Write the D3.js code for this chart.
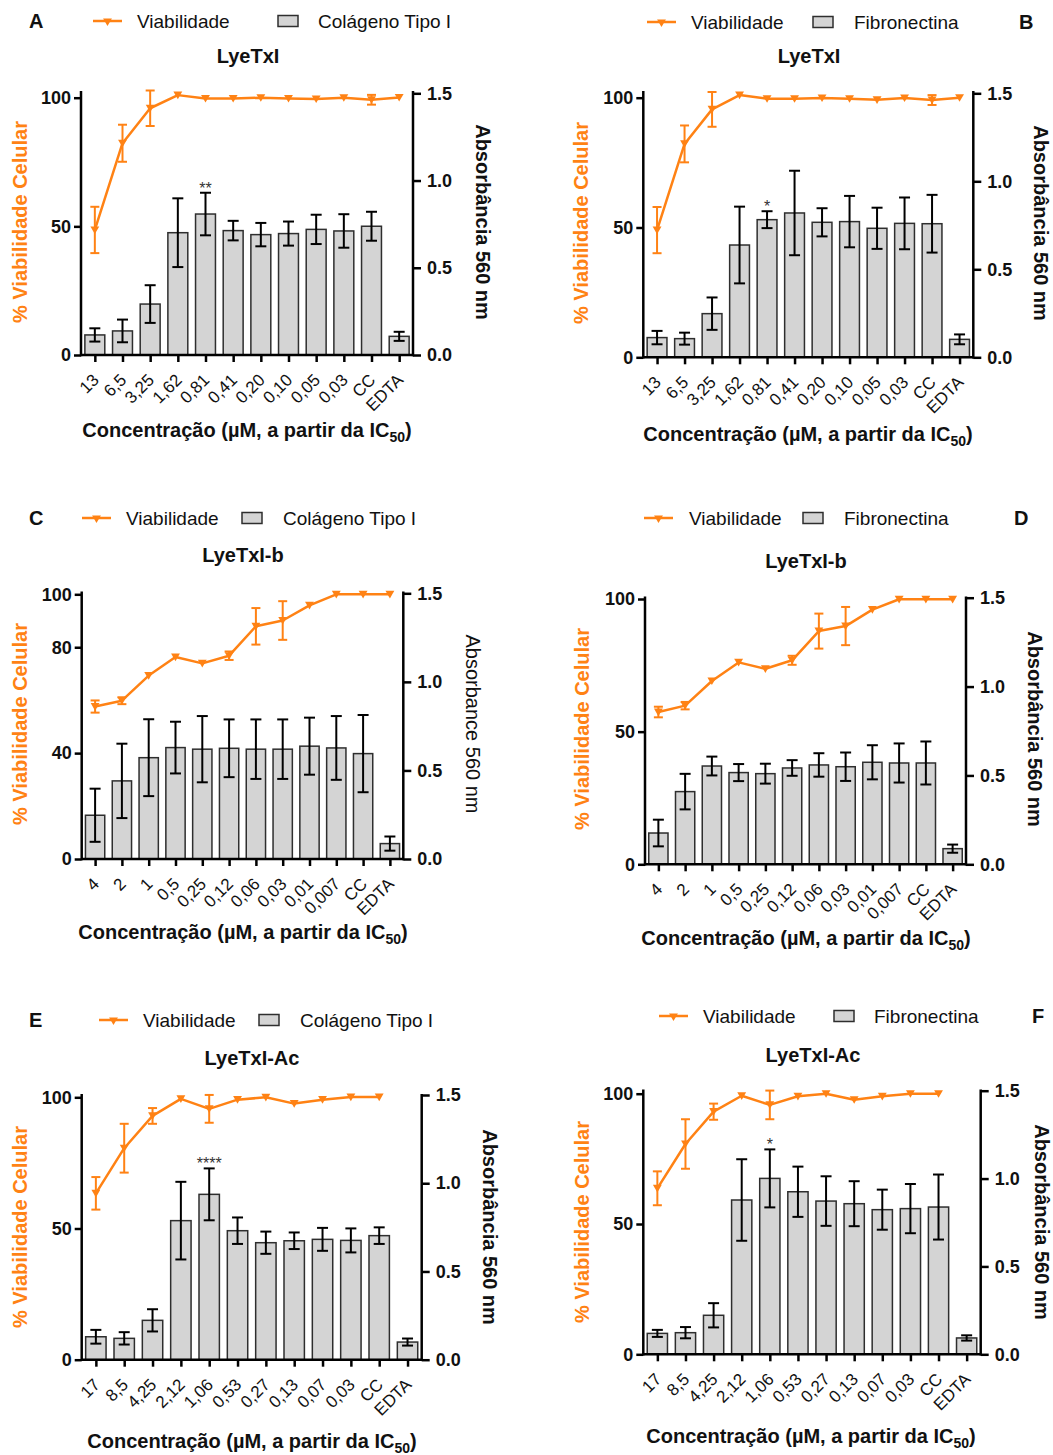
<!DOCTYPE html>
<html>
<head>
<meta charset="utf-8">
<script src="https://cdn.jsdelivr.net/npm/d3@7"></script>
<style>
  body { margin: 0; background: #fff; }
  svg { display: block; }
  text { font-family: "Liberation Sans", Arial, Helvetica, sans-serif; }
</style>
</head>
<body>
<svg id="fig" width="1053" height="1455"></svg>
<script>
// ---- categories (µM, from IC50) ----
const catsLyeTxI   = ["13", "6,5", "3,25", "1,62", "0,81", "0,41", "0,20", "0,10", "0,05", "0,03", "CC", "EDTA"];
const catsLyeTxIb  = ["4", "2", "1", "0,5", "0,25", "0,12", "0,06", "0,03", "0,01", "0,007", "CC", "EDTA"];
const catsLyeTxIAc = ["17", "8,5", "4,25", "2,12", "1,06", "0,53", "0,27", "0,13", "0,07", "0,03", "CC", "EDTA"];

// ---- A: LyeTxI, collagen type I ----
const absA    = [0.115, 0.138, 0.292, 0.701, 0.808, 0.713, 0.690, 0.696, 0.720, 0.711, 0.738, 0.107];
const absAErr = [0.038, 0.065, 0.108, 0.197, 0.122, 0.056, 0.067, 0.069, 0.084, 0.096, 0.083, 0.026];
const viaA    = [48.6, 82.3, 95.9, 101.0, 99.7, 99.7, 100.0, 99.7, 99.5, 100.0, 99.2, 100.1];
const viaAErr = [9.0, 7.2, 6.9, 0, 0, 0, 0, 0, 0, 0, 1.9, 0];
const sigA    = ["", "", "", "", "**", "", "", "", "", "", "", ""];

// ---- B: LyeTxI, fibronectin ----
const absB    = [0.112, 0.106, 0.248, 0.638, 0.782, 0.820, 0.767, 0.771, 0.733, 0.761, 0.759, 0.102];
const absBErr = [0.038, 0.034, 0.092, 0.218, 0.048, 0.240, 0.080, 0.146, 0.117, 0.147, 0.164, 0.028];
const viaB    = [49.0, 82.2, 95.5, 101.0, 99.6, 99.6, 99.9, 99.6, 99.2, 99.9, 99.1, 100.0];
const viaBErr = [8.9, 7.1, 6.7, 0, 0, 0, 0, 0, 0, 0, 1.9, 0];
const sigB    = ["", "", "", "", "*", "", "", "", "", "", "", ""];

// ---- C: LyeTxI-b, collagen type I ----
const absC    = [0.247, 0.441, 0.572, 0.629, 0.620, 0.625, 0.620, 0.620, 0.637, 0.627, 0.595, 0.087];
const absCErr = [0.150, 0.210, 0.217, 0.146, 0.187, 0.163, 0.168, 0.168, 0.161, 0.180, 0.218, 0.040];
const viaC    = [57.6, 59.8, 69.3, 76.3, 73.9, 76.8, 87.9, 90.1, 95.8, 100.0, 100.0, 100.0];
const viaCErr = [2.3, 1.3, 0, 0, 0, 1.6, 6.9, 7.3, 0, 0, 0, 0];
const sigC    = ["", "", "", "", "", "", "", "", "", "", "", ""];

// ---- D: LyeTxI-b, fibronectin ----
const absD    = [0.176, 0.409, 0.553, 0.516, 0.510, 0.542, 0.559, 0.549, 0.574, 0.570, 0.570, 0.088];
const absDErr = [0.075, 0.100, 0.053, 0.048, 0.056, 0.044, 0.066, 0.080, 0.096, 0.110, 0.121, 0.023];
const viaD    = [57.4, 59.8, 69.1, 76.1, 73.7, 76.9, 87.9, 89.8, 96.0, 99.9, 99.9, 99.9];
const viaDErr = [2.0, 1.4, 0, 0, 0, 1.7, 6.6, 7.2, 0, 0, 0, 0];
const sigD    = ["", "", "", "", "", "", "", "", "", "", "", ""];

// ---- E: LyeTxI-Ac, collagen type I ----
const absE    = [0.130, 0.121, 0.223, 0.788, 0.937, 0.731, 0.663, 0.674, 0.682, 0.676, 0.703, 0.100];
const absEErr = [0.039, 0.035, 0.063, 0.220, 0.147, 0.075, 0.063, 0.047, 0.065, 0.068, 0.047, 0.020];
const viaE    = [63.4, 80.6, 92.9, 99.4, 95.6, 99.1, 100.0, 97.6, 99.1, 100.1, 100.1, null];
const viaEErr = [6.2, 9.3, 3.0, 0, 5.3, 0, 0, 0, 0, 0, 0, 0];
const sigE    = ["", "", "", "", "****", "", "", "", "", "", "", ""];

// ---- F: LyeTxI-Ac, fibronectin ----
const absF    = [0.119, 0.123, 0.222, 0.878, 1.001, 0.925, 0.872, 0.857, 0.823, 0.829, 0.838, 0.093];
const absFErr = [0.020, 0.032, 0.069, 0.232, 0.165, 0.143, 0.141, 0.128, 0.114, 0.140, 0.185, 0.015];
const viaF    = [63.7, 80.7, 93.1, 99.2, 95.7, 99.0, 100.0, 97.7, 99.0, 100.0, 100.0, null];
const viaFErr = [6.5, 9.5, 3.1, 0, 5.5, 0, 0, 0, 0, 0, 0, 0];
const sigF    = ["", "", "", "", "*", "", "", "", "", "", "", ""];

// ---- axis ticks ----
const rightTicks = [0, 0.5, 1.0, 1.5];
const leftTicksStd = [0, 50, 100];
const leftTicksC = [0, 40, 80, 100];

const ORANGE = "#ff8214";
const BAR_FILL = "#d4d4d4";
const BAR_STROKE = "#2e2e2e";
const INK = "#111";

// panel placement on the page
const panels = [
  { letter: "A", letterX: 29, title: "LyeTxI", coat: "Colágeno Tipo I", cats: catsLyeTxI,
    abs: absA, absErr: absAErr, via: viaA, viaErr: viaAErr, sig: sigA, leftTicks: leftTicksStd,
    x0: 81, x1: 413, y0: 355, yL: 97.7, yR: 93.3, yTop: 91,
    leg: { lineX: 93, y: 21, textX: 137, boxX: 278, text2X: 318 },
    titleX: 248, titleY: 63, xTitleX: 247, xTitleY: 437,
    leftLabelX: 27, labelY: 222, rightLabelX: 476, rightLabel: "Absorbância 560 nm", rightBold: true },
  { letter: "B", letterX: 1019, title: "LyeTxI", coat: "Fibronectina", cats: catsLyeTxI,
    abs: absB, absErr: absBErr, via: viaB, viaErr: viaBErr, sig: sigB, leftTicks: leftTicksStd,
    x0: 643.3, x1: 973.3, y0: 357.3, yL: 97.7, yR: 93.3, yTop: 91,
    leg: { lineX: 647, y: 22, textX: 691, boxX: 813, text2X: 854 },
    titleX: 809, titleY: 63, xTitleX: 808, xTitleY: 441,
    leftLabelX: 588, labelY: 223, rightLabelX: 1034, rightLabel: "Absorbância 560 nm", rightBold: true },
  { letter: "C", letterX: 29, title: "LyeTxI-b", coat: "Colágeno Tipo I", cats: catsLyeTxIb,
    abs: absC, absErr: absCErr, via: viaC, viaErr: viaCErr, sig: sigC, leftTicks: leftTicksC,
    x0: 81.7, x1: 403.3, y0: 859, yL: 594.3, yR: 593.3, yTop: 591.5,
    leg: { lineX: 82, y: 518, textX: 126, boxX: 242, text2X: 283 },
    titleX: 243, titleY: 562, xTitleX: 243, xTitleY: 939,
    leftLabelX: 27, labelY: 724, rightLabelX: 466, rightLabel: "Absorbance 560 nm", rightBold: false },
  { letter: "D", letterX: 1014, title: "LyeTxI-b", coat: "Fibronectina", cats: catsLyeTxIb,
    abs: absD, absErr: absDErr, via: viaD, viaErr: viaDErr, sig: sigD, leftTicks: leftTicksStd,
    x0: 645, x1: 966, y0: 864.3, yL: 599, yR: 597.7, yTop: 596.5,
    leg: { lineX: 644, y: 518, textX: 689, boxX: 803, text2X: 844 },
    titleX: 806, titleY: 568, xTitleX: 806, xTitleY: 945,
    leftLabelX: 589, labelY: 729, rightLabelX: 1028, rightLabel: "Absorbância 560 nm", rightBold: true },
  { letter: "E", letterX: 29, title: "LyeTxI-Ac", coat: "Colágeno Tipo I", cats: catsLyeTxIAc,
    abs: absE, absErr: absEErr, via: viaE, viaErr: viaEErr, sig: sigE, leftTicks: leftTicksStd,
    x0: 81.7, x1: 421.7, y0: 1359.7, yL: 1097.3, yR: 1095, yTop: 1094,
    leg: { lineX: 99, y: 1020, textX: 143, boxX: 259, text2X: 300 },
    titleX: 252, titleY: 1065, xTitleX: 252, xTitleY: 1448,
    leftLabelX: 27, labelY: 1227, rightLabelX: 483, rightLabel: "Absorbância 560 nm", rightBold: true },
  { letter: "F", letterX: 1032, title: "LyeTxI-Ac", coat: "Fibronectina", cats: catsLyeTxIAc,
    abs: absF, absErr: absFErr, via: viaF, viaErr: viaFErr, sig: sigF, leftTicks: leftTicksStd,
    x0: 643.3, x1: 980.7, y0: 1354.3, yL: 1093.7, yR: 1090.7, yTop: 1089.5,
    leg: { lineX: 659, y: 1016, textX: 703, boxX: 834, text2X: 874 },
    titleX: 813, titleY: 1062, xTitleX: 811, xTitleY: 1443,
    leftLabelX: 589, labelY: 1222, rightLabelX: 1035, rightLabel: "Absorbância 560 nm", rightBold: true }
];

const svg = d3.select("#fig");
const tri = d3.symbol().type(d3.symbolTriangle).size(34);

function drawPanel(p) {
  const g = svg.append("g");
  const x = d3.scalePoint().domain(p.cats).range([p.x0, p.x1]).padding(0.5);
  const yLeft = d3.scaleLinear().domain([0, 100]).range([p.y0, p.yL]);
  const yRight = d3.scaleLinear().domain([0, 1.5]).range([p.y0, p.yR]);
  const barW = x.step() * 0.72;
  const rows = p.cats.map((c, i) => ({ c, i, abs: p.abs[i], absErr: p.absErr[i], via: p.via[i], viaErr: p.viaErr[i], sig: p.sig[i] }));

  // bars (absorbance, right axis)
  g.append("g").selectAll("rect").data(rows).join("rect")
    .attr("x", d => x(d.c) - barW / 2)
    .attr("y", d => yRight(d.abs))
    .attr("width", barW)
    .attr("height", d => yRight(0) - yRight(d.abs))
    .attr("fill", BAR_FILL).attr("stroke", BAR_STROKE).attr("stroke-width", 1.5);

  // bar error bars and significance marks
  const eb = g.append("g").attr("stroke", "#000").attr("stroke-width", 2).attr("fill", "none");
  rows.forEach(d => {
    const cx = x(d.c), yt = yRight(d.abs + d.absErr), yb = yRight(d.abs - d.absErr);
    eb.append("line").attr("x1", cx).attr("x2", cx).attr("y1", yt).attr("y2", yb);
    eb.append("line").attr("x1", cx - 5.5).attr("x2", cx + 5.5).attr("y1", yt).attr("y2", yt);
    eb.append("line").attr("x1", cx - 5.5).attr("x2", cx + 5.5).attr("y1", yb).attr("y2", yb);
    if (d.sig) {
      g.append("text").attr("x", cx).attr("y", yt + 1).attr("text-anchor", "middle")
        .attr("font-size", 16).attr("fill", "#333").text(d.sig);
    }
  });

  // axis lines
  const ax = g.append("g").attr("stroke", "#000").attr("stroke-width", 2.5);
  ax.append("line").attr("x1", p.x0).attr("x2", p.x0).attr("y1", p.y0 + 1.25).attr("y2", p.yTop);
  ax.append("line").attr("x1", p.x1).attr("x2", p.x1).attr("y1", p.y0 + 1.25).attr("y2", p.yTop);
  ax.append("line").attr("x1", p.x0).attr("x2", p.x1).attr("y1", p.y0).attr("y2", p.y0);

  // left axis (viability)
  const la = g.append("g").attr("transform", `translate(${p.x0},0)`)
    .call(d3.axisLeft(yLeft).tickValues(p.leftTicks).tickSize(7).tickSizeOuter(0).tickPadding(3).tickFormat(d3.format("d")));
  la.select(".domain").remove();
  la.selectAll(".tick line").attr("stroke", "#000").attr("stroke-width", 2.5);
  la.selectAll(".tick text").attr("font-size", 18).attr("font-weight", "bold").attr("fill", INK)
    .attr("font-family", "'Liberation Sans', Arial, sans-serif");

  // right axis (absorbance)
  const ra = g.append("g").attr("transform", `translate(${p.x1},0)`)
    .call(d3.axisRight(yRight).tickValues(rightTicks).tickSize(8).tickSizeOuter(0).tickPadding(6).tickFormat(d3.format(".1f")));
  ra.select(".domain").remove();
  ra.selectAll(".tick line").attr("stroke", "#000").attr("stroke-width", 2.5);
  ra.selectAll(".tick text").attr("font-size", 18).attr("font-weight", "bold").attr("fill", INK)
    .attr("font-family", "'Liberation Sans', Arial, sans-serif");

  // bottom axis with 45° labels
  const ba = g.append("g").attr("transform", `translate(0,${p.y0})`)
    .call(d3.axisBottom(x).tickSize(7).tickSizeOuter(0));
  ba.select(".domain").remove();
  ba.selectAll(".tick line").attr("stroke", "#000").attr("stroke-width", 2.5);
  ba.selectAll(".tick text")
    .attr("font-size", 17).attr("fill", INK).attr("font-family", "'Liberation Sans', Arial, sans-serif")
    .attr("text-anchor", "end").attr("x", 4.5).attr("y", 26).attr("dy", 0)
    .attr("transform", "rotate(-45 4.5 26)");

  // viability line (left axis)
  const vrows = rows.filter(d => d.via !== null);
  g.append("path").datum(vrows)
    .attr("d", d3.line().x(d => x(d.c)).y(d => yLeft(d.via)))
    .attr("fill", "none").attr("stroke", ORANGE).attr("stroke-width", 2.5).attr("stroke-linejoin", "round");
  const ve = g.append("g").attr("stroke", ORANGE).attr("stroke-width", 2).attr("fill", "none");
  vrows.filter(d => d.viaErr > 0).forEach(d => {
    const cx = x(d.c), yt = yLeft(d.via + d.viaErr), yb = yLeft(d.via - d.viaErr);
    ve.append("line").attr("x1", cx).attr("x2", cx).attr("y1", yt).attr("y2", yb);
    ve.append("line").attr("x1", cx - 4.5).attr("x2", cx + 4.5).attr("y1", yt).attr("y2", yt);
    ve.append("line").attr("x1", cx - 4.5).attr("x2", cx + 4.5).attr("y1", yb).attr("y2", yb);
  });
  g.append("g").selectAll("path").data(vrows).join("path")
    .attr("d", tri)
    .attr("transform", d => `translate(${x(d.c)},${yLeft(d.via) - 1}) rotate(180)`)
    .attr("fill", ORANGE);

  // axis titles
  g.append("text")
    .attr("transform", `translate(${p.leftLabelX},${p.labelY}) rotate(-90)`)
    .attr("text-anchor", "middle").attr("font-size", 20).attr("font-weight", "bold").attr("fill", ORANGE)
    .text("% Viabilidade Celular");
  g.append("text")
    .attr("transform", `translate(${p.rightLabelX},${p.labelY}) rotate(90)`)
    .attr("text-anchor", "middle").attr("font-size", 20)
    .attr("font-weight", p.rightBold ? "bold" : "normal").attr("fill", INK)
    .text(p.rightLabel);
  const xt = g.append("text").attr("x", p.xTitleX).attr("y", p.xTitleY)
    .attr("text-anchor", "middle").attr("font-size", 20).attr("font-weight", "bold").attr("fill", INK);
  xt.append("tspan").text("Concentração (µM, a partir da IC");
  xt.append("tspan").attr("font-size", 14).attr("dy", 5).text("50");
  xt.append("tspan").attr("dy", -5).text(")");

  // chart title
  g.append("text").attr("x", p.titleX).attr("y", p.titleY).attr("text-anchor", "middle")
    .attr("font-size", 20).attr("font-weight", "bold").attr("fill", INK).text(p.title);

  // legend
  const L = p.leg;
  g.append("line").attr("x1", L.lineX).attr("x2", L.lineX + 29).attr("y1", L.y).attr("y2", L.y)
    .attr("stroke", ORANGE).attr("stroke-width", 2.5);
  g.append("path").attr("d", tri).attr("fill", ORANGE)
    .attr("transform", `translate(${L.lineX + 14.5},${L.y}) rotate(180)`);
  g.append("text").attr("x", L.textX).attr("y", L.y + 7).attr("font-size", 19).attr("fill", INK).text("Viabilidade");
  g.append("rect").attr("x", L.boxX).attr("y", L.y - 5.5).attr("width", 20).attr("height", 11)
    .attr("fill", BAR_FILL).attr("stroke", BAR_STROKE).attr("stroke-width", 1.5);
  g.append("text").attr("x", L.text2X).attr("y", L.y + 7).attr("font-size", 19).attr("fill", INK).text(p.coat);

  // panel letter
  g.append("text").attr("x", p.letterX).attr("y", L.y + 7).attr("font-size", 20).attr("font-weight", "bold")
    .attr("fill", INK).text(p.letter);
}

panels.forEach(drawPanel);
</script>
</body>
</html>
